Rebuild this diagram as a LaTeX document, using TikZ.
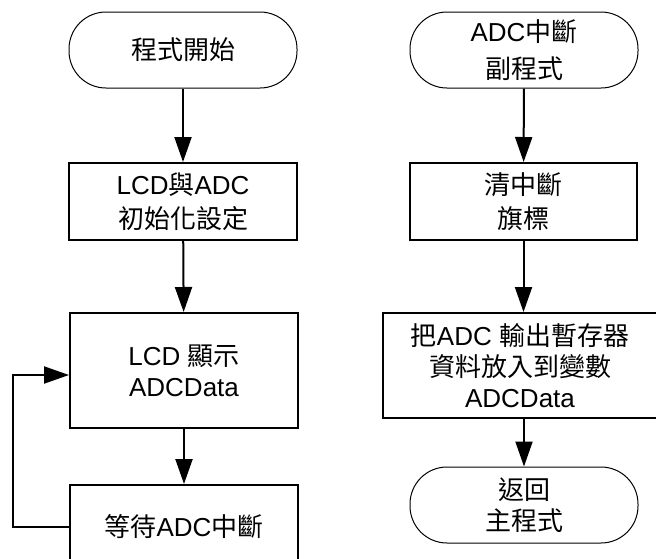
\documentclass[tikz,border=0pt]{standalone}
\usepackage{fontspec}
\setmainfont{Liberation Sans}
\newfontfamily\cjk{Noto Sans CJK TC}
\usetikzlibrary{arrows.meta}
\newcommand{\zh}[1]{{\cjk #1}}
\begin{document}
\begin{tikzpicture}[x=1pt,y=-1pt,
  font=\fontsize{26}{31}\selectfont,
  term/.style={draw, line width=1pt, rounded corners=37pt, minimum width=228pt, minimum height=76pt, align=center, inner sep=0pt},
  procbox/.style={draw, line width=2pt, align=center, inner sep=0pt},
  flow/.style={line width=2pt, -{Triangle[length=25pt,width=17pt]}}]
\useasboundingbox (0,0) rectangle (656,558);
% left column
\node[term] (start) at (183,50) {\zh{程式開始}};
\node[procbox, minimum width=228pt, minimum height=77pt] (init) at (183,201.5) {LCD\zh{與}ADC\\[3pt]\zh{初始化設定}};
\node[procbox, minimum width=228pt, minimum height=115pt] (disp) at (184,370.5) {LCD \zh{顯示}\\ADCData};
\node[procbox, minimum width=228pt, minimum height=84pt] (wait) at (184,527) {\zh{等待}ADC\zh{中斷}};
\draw[flow] (start) -- (init);
\draw[flow] (init) -- (disp);
\draw[flow] (disp) -- (wait);
\draw[flow] (wait.west) -- ++(-56,0) |- ([yshift=-4.5pt]disp.west);
% right column
\node[term] (isr) at (524,50) {ADC\zh{中斷}\\[6pt]\zh{副程式}};
\node[procbox, minimum width=227pt, minimum height=77pt] (clr) at (523.5,201.5) {\zh{清中斷}\\[3pt]\zh{旗標}};
\node[procbox, minimum width=274pt, minimum height=105pt] (store) at (520,365.5) {\zh{把}ADC \zh{輸出暫存器}\\\zh{資料放入到變數}\\ADCData};
\node[term] (ret) at (524,505) {\zh{返回}\\\zh{主程式}};
\draw[flow] (isr) -- (clr);
\draw[flow] (clr.south) -- (clr.south |- store.north);
\draw[flow] (store.south -| ret.north) -- (ret.north);
\end{tikzpicture}
\end{document}
